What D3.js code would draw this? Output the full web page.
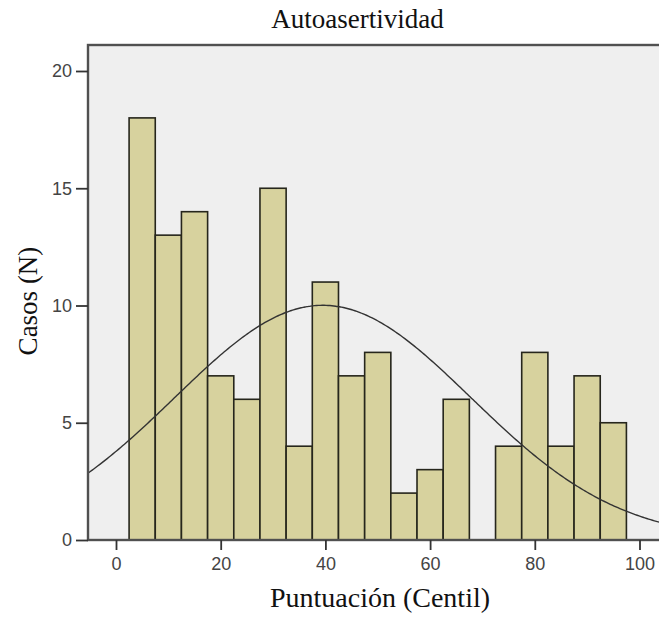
<!DOCTYPE html>
<html>
<head>
<meta charset="utf-8">
<script src="https://cdn.jsdelivr.net/npm/d3@7/dist/d3.min.js"></script>
<style>
  html, body { margin: 0; padding: 0; background: #ffffff; }
  svg { display: block; }
</style>
</head>
<body>
<div id="chart"></div>
<script>
// ---- Data ----
const binCenters = [5, 10, 15, 20, 25, 30, 35, 40, 45, 50, 55, 60, 65, 70, 75, 80, 85, 90, 95];
const counts     = [18, 13, 14, 7, 6, 15, 4, 11, 7, 8, 2, 3, 6, 0, 4, 8, 4, 7, 5];
const binWidth = 5;
const xTicks = [0, 20, 40, 60, 80, 100];
const yTicks = [0, 5, 10, 15, 20];
// fitted normal curve parameters
const fitMean = 39.5;
const fitSd = 28.3;

const title = "Autoasertividad";
const xTitle = "Puntuación (Centil)";
const yTitle = "Casos (N)";

// ---- Layout ----
const W = 659, H = 620;
const plot = { left: 88, top: 45, right: 664, bottom: 540 };

const svg = d3.select("#chart").append("svg")
  .attr("width", W).attr("height", H);

const x = d3.scaleLinear().domain([0, 100]).range([116, 639.5]);
const y = d3.scaleLinear().domain([0, 20]).range([540, 71]);

svg.append("defs").append("clipPath").attr("id", "clip")
  .append("rect")
  .attr("x", plot.left).attr("y", plot.top)
  .attr("width", plot.right - plot.left).attr("height", plot.bottom - plot.top);

// plot background
svg.append("rect")
  .attr("x", plot.left).attr("y", plot.top)
  .attr("width", plot.right - plot.left).attr("height", plot.bottom - plot.top)
  .attr("fill", "#efefef");

const g = svg.append("g").attr("clip-path", "url(#clip)");

// bars
const bars = binCenters.map((c, i) => ({ c, n: counts[i] })).filter(d => d.n > 0);
g.selectAll("rect.bar").data(bars).enter().append("rect")
  .attr("class", "bar")
  .attr("x", d => x(d.c - binWidth / 2))
  .attr("width", d => x(d.c + binWidth / 2) - x(d.c - binWidth / 2))
  .attr("y", d => y(d.n))
  .attr("height", d => y(0) - y(d.n))
  .attr("fill", "#d7d29e")
  .attr("stroke", "#26261c")
  .attr("stroke-width", 1.6);

// normal curve
const total = d3.sum(counts);
const xmin = x.invert(plot.left), xmax = x.invert(plot.right);
const curvePts = d3.range(0, 301).map(k => {
  const v = xmin + (xmax - xmin) * k / 300;
  const z = (v - fitMean) / fitSd;
  return [v, total * binWidth * Math.exp(-0.5 * z * z) / (fitSd * Math.sqrt(2 * Math.PI))];
});
g.append("path")
  .datum(curvePts)
  .attr("fill", "none")
  .attr("stroke", "#333333")
  .attr("stroke-width", 1.4)
  .attr("d", d3.line().x(d => x(d[0])).y(d => y(d[1])).curve(d3.curveBasis));

// frame
svg.append("rect")
  .attr("x", plot.left).attr("y", plot.top)
  .attr("width", plot.right - plot.left).attr("height", plot.bottom - plot.top)
  .attr("fill", "none")
  .attr("stroke", "#505050")
  .attr("stroke-width", 2.4);

// axes
const xAxis = svg.append("g")
  .attr("transform", `translate(0,${plot.bottom})`)
  .call(d3.axisBottom(x).tickValues(xTicks).tickSize(10).tickPadding(7).tickFormat(d3.format("d")));
xAxis.select(".domain").remove();

const yAxis = svg.append("g")
  .attr("transform", `translate(${plot.left},0)`)
  .call(d3.axisLeft(y).tickValues(yTicks).tickSize(12).tickPadding(4).tickFormat(d3.format("d")));
yAxis.select(".domain").remove();

svg.selectAll(".tick line").attr("stroke", "#333").attr("stroke-width", 1.8);
svg.selectAll(".tick text")
  .attr("font-family", "'Liberation Sans', Arial, sans-serif")
  .attr("font-size", 18)
  .attr("fill", "#444");

// titles
svg.append("text")
  .attr("x", 357.5).attr("y", 28)
  .attr("text-anchor", "middle")
  .attr("font-family", "'Liberation Serif', 'Times New Roman', serif")
  .attr("font-size", 27)
  .attr("fill", "#111")
  .text(title);

svg.append("text")
  .attr("x", 380).attr("y", 607)
  .attr("text-anchor", "middle")
  .attr("font-family", "'Liberation Serif', 'Times New Roman', serif")
  .attr("font-size", 28)
  .attr("fill", "#111")
  .text(xTitle);

svg.append("text")
  .attr("transform", "translate(37,301) rotate(-90)")
  .attr("text-anchor", "middle")
  .attr("font-family", "'Liberation Serif', 'Times New Roman', serif")
  .attr("font-size", 27)
  .attr("fill", "#111")
  .text(yTitle);
</script>
</body>
</html>
